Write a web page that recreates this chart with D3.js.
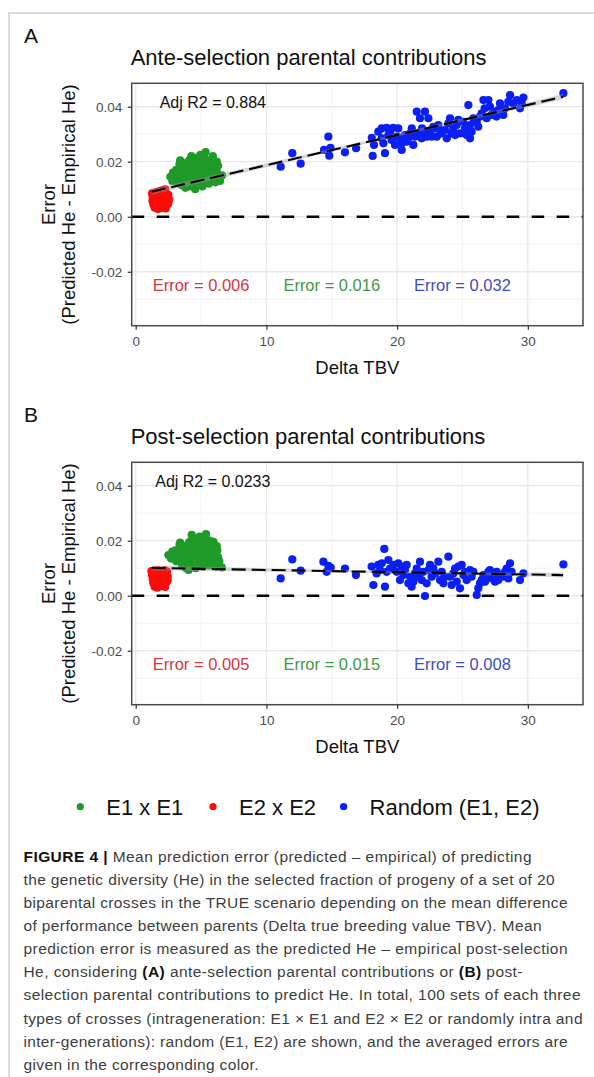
<!DOCTYPE html>
<html>
<head>
<meta charset="utf-8">
<script src="https://cdn.jsdelivr.net/npm/d3@7"></script>
<style>
  body { margin: 0; background: #fff; }
  svg { display: block; font-family: "Liberation Sans", Arial, Helvetica, sans-serif; }
</style>
</head>
<body>
<svg id="chart" width="594" height="1077"></svg>
<script>
// ---- data ----
const groupNames = ['E1 x E1', 'E2 x E2', 'Random (E1, E2)'];

const xTicks = [0, 10, 20, 30];
const xMinorTicks = [5, 15, 25];
const yTicks = [-0.02, 0, 0.02, 0.04];
const yMinorTicks = [-0.03, -0.01, 0.01, 0.03];

const titleA = 'Ante-selection parental contributions';
const titleB = 'Post-selection parental contributions';
const adjR2A = '0.884';
const adjR2B = '0.0233';

// error labels: red, green, blue, placed at x = 5, 15, 25
const errorLabelX = [5, 15, 25];
const errorLabelGroup = [1, 0, 2];
const errorValuesA = ['0.006', '0.016', '0.032'];
const errorValuesB = ['0.005', '0.015', '0.008'];

// E2 x E2 (red), panel A
const e2A = [[1.25,0.0085],[1.3,0.0072],[1.28,0.0058],[1.35,0.0045],[1.45,0.0033],[1.5,0.0089],[1.55,0.0066],
  [1.6,0.0052],[1.62,0.0038],[1.7,0.0028],[1.75,0.0092],[1.8,0.0078],[1.85,0.006],[1.9,0.0045],[1.95,0.0032],
  [2.0,0.0096],[2.05,0.0083],[2.1,0.0068],[2.12,0.0052],[2.2,0.0038],[2.25,0.01],[2.3,0.0088],[2.35,0.0072],
  [2.4,0.0058],[2.45,0.0045],[2.5,0.008],[2.55,0.0063],[2.3,0.003],[1.4,0.0062],[1.7,0.007],[2.0,0.0058],
  [1.9,0.0088],[2.15,0.009],[1.6,0.008],[2.5,0.005]];

// E1 x E1 (green), panel A
const e1A = [[2.65,0.0145],[2.8,0.013],[2.85,0.016],[3.0,0.014],[3.1,0.017],[3.15,0.0125],[3.3,0.0155],[3.35,0.019],
  [3.4,0.0205],[3.45,0.0135],[3.5,0.0115],[3.6,0.017],[3.65,0.015],[3.7,0.0195],[3.8,0.0105],[3.85,0.013],
  [3.9,0.018],[4.0,0.016],[4.05,0.011],[4.1,0.0205],[4.2,0.014],[4.25,0.022],[4.3,0.0185],[4.35,0.012],
  [4.45,0.0165],[4.5,0.02],[4.55,0.01],[4.6,0.0145],[4.7,0.018],[4.75,0.0215],[4.8,0.0125],[4.9,0.016],
  [5.0,0.0195],[5.05,0.014],[5.1,0.011],[5.2,0.0175],[5.25,0.0215],[5.35,0.0235],[5.4,0.015],[5.45,0.0125],
  [5.5,0.019],[5.6,0.0205],[5.7,0.0165],[5.75,0.0135],[5.8,0.018],[5.9,0.022],[6.0,0.0195],[6.05,0.015],
  [6.1,0.0125],[6.2,0.017],[6.3,0.0185],[6.35,0.014],[6.45,0.013],[6.6,0.015],[4.0,0.019],[3.2,0.015],
  [5.6,0.012],[4.95,0.0225],[4.15,0.0175],[6.2,0.02]];

// Random (E1, E2) (blue), panel A
const rndA = [[11.09,0.0182],[11.98,0.0231],[12.62,0.0193],[14.74,0.0291],[14.41,0.0243],[14.81,0.0222],[14.9,0.025],
  [16.01,0.0234],[16.86,0.0249],[18.06,0.0287],[18.13,0.0221],[18.23,0.0261],[19.07,0.0231],[18.82,0.0321],
  [19.2,0.0323],[19.46,0.0309],[19.7,0.0323],[20.09,0.0321],[20.0,0.0291],[20.35,0.0267],[20.35,0.0243],
  [20.73,0.0273],[21.12,0.0321],[21.24,0.0261],[21.5,0.0382],[22.13,0.0382],[21.75,0.0358],[22.39,0.0358],
  [21.9,0.0321],[22.52,0.0309],[22.9,0.0321],[23.03,0.0291],[23.4,0.0303],[23.8,0.0285],[24.05,0.0358],
  [24.3,0.0321],[24.56,0.0333],[24.81,0.0303],[25.07,0.0345],[25.45,0.0406],[25.58,0.0285],[25.7,0.0309],
  [26.09,0.0345],[26.35,0.0364],[26.6,0.0424],[26.98,0.0424],[26.7,0.0394],[27.1,0.04],[27.5,0.0382],
  [27.6,0.0364],[27.87,0.0412],[28.25,0.0394],[28.64,0.0442],[28.5,0.0418],[29.4,0.0394],[29.66,0.0433],
  [32.72,0.0449],[18.56,0.0309],[18.82,0.0285],[18.95,0.0267],[19.33,0.0297],[19.58,0.0279],[19.84,0.0261],
  [20.22,0.0285],[20.6,0.0297],[20.86,0.0285],[20.99,0.0303],[21.37,0.0291],[21.62,0.0303],[21.88,0.0285],
  [22.13,0.0309],[22.26,0.0291],[22.64,0.0291],[22.77,0.0327],[23.15,0.0333],[23.28,0.0315],[23.66,0.0315],
  [23.92,0.0339],[24.17,0.0303],[24.43,0.0297],[24.68,0.0352],[25.19,0.0321],[25.32,0.0297],[25.58,0.0333],
  [25.83,0.0358],[26.21,0.0327],[26.47,0.0376],[26.85,0.0358],[27.23,0.037],[27.74,0.0388],[28.12,0.037],
  [28.89,0.0412],[29.15,0.0424],[29.53,0.0412]];

// E2 x E2 (red), panel B
const e2B = [[1.2,0.009],[1.25,0.0075],[1.3,0.006],[1.35,0.0045],[1.45,0.0033],[1.45,0.0092],[1.5,0.0068],
  [1.55,0.0052],[1.65,0.0029],[1.7,0.0093],[1.75,0.008],[1.8,0.0062],[1.85,0.0045],[1.95,0.0035],[1.95,0.009],
  [2.0,0.0072],[2.05,0.0055],[2.15,0.004],[2.2,0.0093],[2.25,0.008],[2.3,0.0064],[2.35,0.0048],[2.4,0.0088],
  [2.45,0.007],[2.45,0.0055],[2.25,0.0032],[1.6,0.0085],[1.9,0.005],[2.1,0.0085],[1.4,0.008]];

// E1 x E1 (green), panel B
const e1B = [[2.5,0.0148],[2.7,0.0135],[2.8,0.016],[2.95,0.014],[3.05,0.0165],[3.1,0.0125],[3.25,0.015],[3.35,0.0185],
  [3.4,0.0193],[3.45,0.013],[3.55,0.011],[3.6,0.0165],[3.65,0.0145],[3.75,0.018],[3.85,0.01],[3.9,0.0125],
  [3.95,0.017],[4.0,0.015],[4.05,0.0094],[4.1,0.0195],[4.2,0.0135],[4.28,0.0221],[4.3,0.018],[4.35,0.0112],
  [4.45,0.016],[4.55,0.02],[4.6,0.01],[4.65,0.014],[4.75,0.0175],[4.8,0.021],[4.85,0.012],[4.95,0.0155],
  [5.0,0.019],[5.1,0.0135],[5.15,0.0105],[5.25,0.017],[5.3,0.021],[5.38,0.0224],[5.45,0.0145],[5.5,0.0118],
  [5.55,0.0185],[5.65,0.02],[5.75,0.016],[5.8,0.013],[5.85,0.0175],[5.95,0.0196],[6.05,0.015],[6.1,0.012],
  [6.15,0.0105],[6.25,0.0165],[6.3,0.014],[6.4,0.0125],[6.58,0.0103],[4.0,0.0185],[3.2,0.014],[5.6,0.011],
  [4.9,0.0215],[4.15,0.016],[6.2,0.018]];

// Random (E1, E2) (blue), panel B
const rndB = [[11.09,0.0063],[11.98,0.0132],[12.62,0.0091],[14.36,0.0124],[14.74,0.0109],[14.61,0.0087],[14.92,0.0102],
  [16.01,0.0099],[16.85,0.0075],[18.18,0.0039],[18.05,0.0106],[18.43,0.0081],[18.56,0.0112],[18.82,0.0118],
  [19.02,0.017],[19.07,0.0033],[19.33,0.013],[19.46,0.0099],[19.71,0.0112],[19.97,0.0087],[20.09,0.0118],
  [20.22,0.0057],[20.48,0.0075],[20.6,0.0093],[20.86,0.0045],[20.99,0.0069],[21.11,0.0033],[21.24,0.0051],
  [21.5,0.0099],[21.62,0.0069],[21.88,0.0057],[22.0,0.0087],[22.13,-0.0001],[22.26,0.0045],[22.52,0.0112],
  [22.64,0.0069],[22.9,0.0081],[23.15,0.0124],[23.28,0.0057],[23.41,0.0087],[23.54,0.0045],[23.92,0.0142],
  [24.05,0.0069],[24.17,0.0039],[24.43,0.0099],[24.56,0.0051],[24.81,0.0027],[24.94,0.0112],[25.07,0.0075],
  [25.32,0.0057],[25.58,0.0093],[25.7,0.0069],[26.09,0.0003],[26.21,0.0027],[26.34,0.0045],[26.6,0.0075],
  [26.72,0.0051],[26.98,0.0087],[27.23,0.0063],[27.49,0.0051],[27.62,0.0087],[27.87,0.0075],[28.12,0.0069],
  [28.38,0.0099],[28.64,0.0118],[28.76,0.0087],[29.4,0.0057],[29.66,0.0081],[32.72,0.0114],[18.69,0.0093],
  [19.2,0.0087],[20.35,0.0106],[20.73,0.0112],[21.37,0.0081],[21.75,0.0124],[22.39,0.0093],[22.77,0.0099],
  [23.66,0.0069],[24.3,0.0081],[24.68,0.0106],[25.19,0.0087],[25.83,0.0087],[26.47,0.0057],[26.85,0.0069],
  [27.1,0.0093],[27.36,0.0075],[27.74,0.0057],[28.25,0.0087],[28.51,0.0063]];

// fitted regression line ends and half-width of its confidence band
const fitA = [[1.22, 0.0091], [32.7, 0.0436]];
const fitB = [[1.22, 0.0101], [32.7, 0.0075]];
const bandA = [[1.22, 0.0011], [10, 0.0007], [18, 0.0005], [26, 0.0006], [32.7, 0.001]];
const bandB = [[1.22, 0.0009], [10, 0.0006], [18, 0.0004], [26, 0.0005], [32.7, 0.0009]];

const captionLines = [
  [['FIGURE 4 |', true], [' Mean prediction error (predicted \u2013 empirical) of predicting', false]],
  [['the genetic diversity (He) in the selected fraction of progeny of a set of 20', false]],
  [['biparental crosses in the TRUE scenario depending on the mean difference', false]],
  [['of performance between parents (Delta true breeding value TBV). Mean', false]],
  [['prediction error is measured as the predicted He \u2013 empirical post-selection', false]],
  [['He, considering ', false], ['(A)', true], [' ante-selection parental contributions or ', false], ['(B)', true], [' post-', false]],
  [['selection parental contributions to predict He. In total, 100 sets of each three', false]],
  [['types of crosses (intrageneration: E1 \u00d7 E1 and E2 \u00d7 E2 or randomly intra and', false]],
  [['inter-generations): random (E1, E2) are shown, and the averaged errors are', false]],
  [['given in the corresponding color.', false]]
];

// ---- layout ----
const pointColors = ['#1e9a28', '#ff0a0a', '#0a1ff5'];
const labelColors = ['#3f9a3f', '#d8363e', '#3d4ec2'];
const panelLeft = 131.7, panelRight = 583, panelTop = 83.3, panelBottom = 325.7;
const captionWidths = [508, 531, 544, 518, 544, 499, 557, 559, 544, 235];

const svg = d3.select('#chart');

svg.append('rect').attr('width', 594).attr('height', 1077).attr('fill', '#fff');

// light frame around the figure
svg.append('path')
  .attr('d', 'M9,1077V13H594')
  .attr('fill', 'none')
  .attr('stroke', '#cfcfcf')
  .attr('stroke-width', 1.5);

const x = d3.scaleLinear().domain([-0.306, 34.22]).range([panelLeft, panelRight]);
const y = d3.scaleLinear().domain([-0.0396, 0.0485]).range([panelBottom, panelTop]);

const panels = [
  { tag: 'A', title: titleA, r2: adjR2A, errs: errorValuesA, sets: [e2A, e1A, rndA], fit: fitA, band: bandA, dy: 0 },
  { tag: 'B', title: titleB, r2: adjR2B, errs: errorValuesB, sets: [e2B, e1B, rndB], fit: fitB, band: bandB, dy: 379 }
];
const setGroup = [1, 0, 2];

panels.forEach(p => drawPanel(p));

function drawPanel(p) {
  const g = svg.append('g').attr('transform', `translate(0,${p.dy})`);

  g.append('text').attr('x', 24).attr('y', 43)
    .style('font-size', '21px').attr('fill', '#111').text(p.tag);

  g.append('text').attr('x', panelLeft - 1).attr('y', 65)
    .style('font-size', '22px').attr('fill', '#111').text(p.title);

  // grid
  const grid = g.append('g');
  grid.selectAll('.xminor').data(xMinorTicks).join('line')
    .attr('x1', d => x(d)).attr('x2', d => x(d)).attr('y1', panelTop).attr('y2', panelBottom)
    .attr('stroke', '#f0f0f0').attr('stroke-width', 0.8);
  grid.selectAll('.yminor').data(yMinorTicks).join('line')
    .attr('y1', d => y(d)).attr('y2', d => y(d)).attr('x1', panelLeft).attr('x2', panelRight)
    .attr('stroke', '#f0f0f0').attr('stroke-width', 0.8);
  grid.selectAll('.xmajor').data(xTicks).join('line')
    .attr('x1', d => x(d)).attr('x2', d => x(d)).attr('y1', panelTop).attr('y2', panelBottom)
    .attr('stroke', '#e8e8e8').attr('stroke-width', 1.3);
  grid.selectAll('.ymajor').data(yTicks).join('line')
    .attr('y1', d => y(d)).attr('y2', d => y(d)).attr('x1', panelLeft).attr('x2', panelRight)
    .attr('stroke', '#e8e8e8').attr('stroke-width', 1.3);

  // points
  p.sets.forEach((set, i) => {
    g.append('g').selectAll('circle').data(set).join('circle')
      .attr('cx', d => x(d[0])).attr('cy', d => y(d[1])).attr('r', 4.1)
      .attr('fill', pointColors[setGroup[i]]);
  });

  // regression band + line
  const fitY = xv => p.fit[0][1] + (xv - p.fit[0][0]) * (p.fit[1][1] - p.fit[0][1]) / (p.fit[1][0] - p.fit[0][0]);
  g.append('path').datum(p.band)
    .attr('d', d3.area().x(d => x(d[0])).y0(d => y(fitY(d[0]) - d[1])).y1(d => y(fitY(d[0]) + d[1])).curve(d3.curveMonotoneX))
    .attr('fill', '#999').attr('fill-opacity', 0.4);
  g.append('path').datum(p.fit)
    .attr('d', d3.line().x(d => x(d[0])).y(d => y(d[1])))
    .attr('stroke', '#000').attr('stroke-width', 2.1).attr('stroke-dasharray', '14,6').attr('fill', 'none');

  // zero line
  g.append('line')
    .attr('x1', panelLeft).attr('x2', panelRight).attr('y1', y(0)).attr('y2', y(0))
    .attr('stroke', '#000').attr('stroke-width', 2.6).attr('stroke-dasharray', '12.5,12.5');

  // annotations
  g.append('text').attr('x', x(5.9)).attr('y', y(0.0417)).attr('dy', '0.36em')
    .attr('text-anchor', 'middle').style('font-size', '16px').attr('fill', '#111')
    .text('Adj R2 = ' + p.r2);
  g.append('g').selectAll('text').data(errorLabelX).join('text')
    .attr('x', d => x(d)).attr('y', y(-0.025)).attr('dy', '0.36em')
    .attr('text-anchor', 'middle').style('font-size', '16.5px')
    .attr('fill', (d, i) => labelColors[errorLabelGroup[i]])
    .text((d, i) => 'Error = ' + p.errs[i]);

  // border
  g.append('rect')
    .attr('x', panelLeft).attr('y', panelTop)
    .attr('width', panelRight - panelLeft).attr('height', panelBottom - panelTop)
    .attr('fill', 'none').attr('stroke', '#4a4a4a').attr('stroke-width', 1.5);

  // axes
  const xAxis = g.append('g').attr('transform', `translate(0,${panelBottom})`)
    .call(d3.axisBottom(x).tickValues(xTicks).tickSize(4).tickPadding(7).tickFormat(d3.format('d')));
  const yAxis = g.append('g').attr('transform', `translate(${panelLeft},0)`)
    .call(d3.axisLeft(y).tickValues(yTicks).tickSize(4).tickPadding(5.5).tickFormat(d => d.toFixed(2)));
  [xAxis, yAxis].forEach(a => {
    a.select('.domain').remove();
    a.selectAll('line').attr('stroke', '#333').attr('stroke-width', 1.2);
    a.selectAll('text').attr('fill', '#4d4d4d').style('font-size', '13.5px')
      .style('font-family', '"Liberation Sans", Arial, sans-serif');
  });

  g.append('text').attr('x', (panelLeft + panelRight) / 2).attr('y', 373.5)
    .attr('text-anchor', 'middle').style('font-size', '18.5px').attr('fill', '#111')
    .text('Delta TBV');

  const yt = g.append('g').attr('transform', `translate(0,${(panelTop + panelBottom) / 2}) rotate(-90)`);
  yt.append('text').attr('x', 0).attr('y', 55).attr('text-anchor', 'middle')
    .style('font-size', '18.5px').attr('fill', '#111').text('Error');
  yt.append('text').attr('x', 0).attr('y', 75).attr('text-anchor', 'middle')
    .style('font-size', '18.5px').attr('fill', '#111').text('(Predicted He - Empirical He)');
}

// legend
const legendDotX = [80.3, 213, 343.6];
const legend = svg.append('g').selectAll('g').data(groupNames).join('g')
  .attr('transform', (d, i) => `translate(${legendDotX[i]},806.7)`);
legend.append('circle').attr('r', 3.6).attr('fill', (d, i) => pointColors[i]);
legend.append('text').attr('x', 26).attr('dy', '0.36em')
  .style('font-size', '22px').attr('fill', '#111').text(d => d);

// caption
const caption = svg.append('g').selectAll('text').data(captionLines).join('text')
  .attr('x', 23.5).attr('y', (d, i) => 862.3 + i * 23.03)
  .attr('textLength', (d, i) => captionWidths[i])
  .attr('lengthAdjust', 'spacing')
  .style('font-size', '15.5px');
caption.selectAll('tspan').data(d => d).join('tspan')
  .attr('font-weight', d => d[1] ? 'bold' : null)
  .attr('fill', d => d[1] ? '#111' : '#3d3d3d')
  .text(d => d[0]);
</script>
</body>
</html>
